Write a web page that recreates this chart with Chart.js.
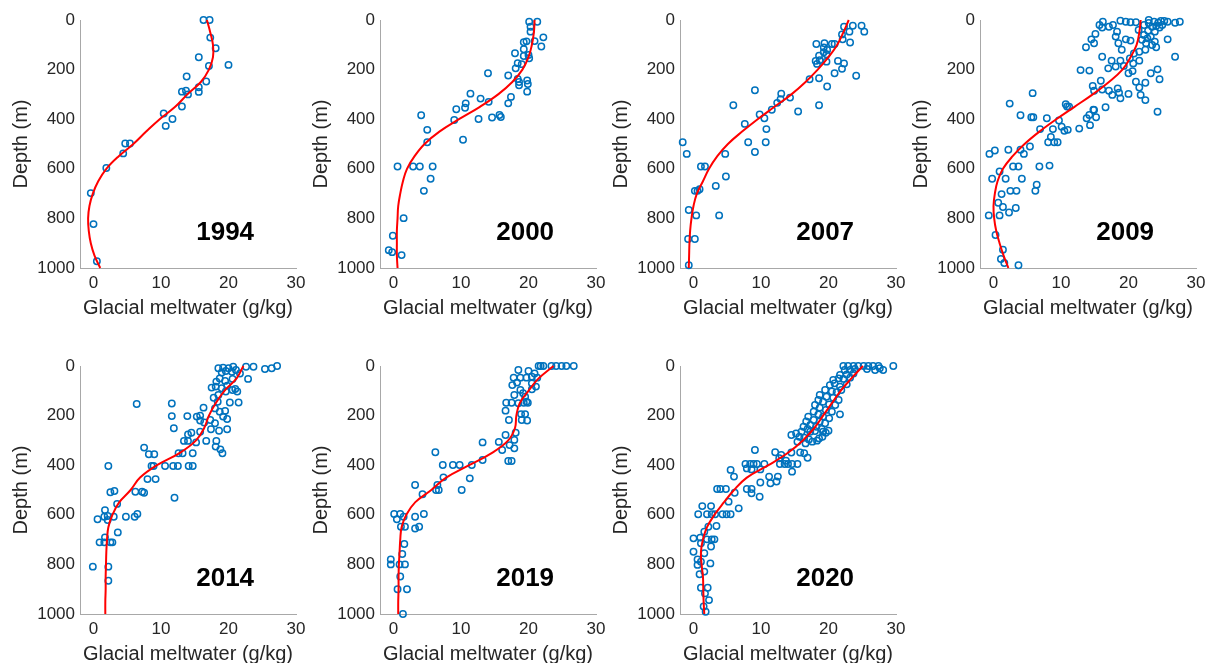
<!DOCTYPE html>
<html>
<head>
<meta charset="utf-8">
<script src="https://cdn.jsdelivr.net/npm/chart.js"></script>
<style>
  html, body { margin: 0; padding: 0; background: #fff; overflow: hidden; }
  #wrap { position: relative; width: 1208px; height: 663px; }
  #wrap canvas { position: absolute; }
</style>
</head>
<body>
<div id="wrap"></div>
<script>
// depth levels of the fitted profiles (m)
const fitDepth = [0, 50, 100, 150, 200, 250, 300, 350, 400, 450, 500, 550, 600, 650, 700, 750, 800, 850, 900, 950, 1000];
const xTicks = [0, 10, 20, 30];
const yTicks = [0, 200, 400, 600, 800, 1000];

// observations: [meltwater g/kg, depth m]
const obs1994 = [[16.3,0],[17.2,0],[17.3,71],[18.1,114],[15.6,150],[17.1,185],[20.0,181],[13.8,228],[16.7,248],[15.6,271],[13.1,289],[13.7,285],[15.6,290],[14.0,300],[13.1,349],[10.4,377],[11.7,399],[10.7,427],[4.7,498],[5.4,498],[4.4,538],[1.9,597],[-0.4,698],[0,823],[0.5,973]];
const fit1994 = [16.8,17.3,17.7,17.7,17.1,15.9,13.9,12.1,9.8,7.8,5.9,3.7,1.9,0.7,-0.1,-0.6,-0.8,-0.7,-0.4,0.15,1.0];

const obs2000 = [[20.1,7],[21.3,7],[20.3,27],[20.3,47],[22.2,70],[20.9,85],[19.3,90],[19.7,86],[21.9,107],[19.3,118],[18.0,134],[20.0,141],[19.3,145],[20.1,154],[18.4,174],[19.0,178],[18.1,195],[14.0,215],[17.0,224],[18.4,238],[18.6,250],[19.8,244],[18.6,263],[19.9,258],[19.8,289],[11.4,297],[17.4,310],[12.9,317],[10.7,336],[17.0,336],[14.1,330],[10.6,354],[9.3,360],[4.1,384],[15.7,383],[15.9,391],[14.6,393],[12.6,399],[9.0,403],[5.0,443],[10.3,483],[5.0,493],[0.6,591],[2.9,591],[3.9,591],[5.8,591],[5.5,640],[4.5,689],[1.5,799],[-0.1,870],[-0.7,928],[-0.2,936],[1.2,948]];
const fit2000 = [20.9,20.8,20.5,20.0,19.1,17.6,15.5,12.8,9.7,6.8,4.6,3.1,2.0,1.4,1.0,0.7,0.6,0.5,0.5,0.5,0.6];

const obs2007 = [[23.6,23],[24.9,23],[22.3,27],[23.1,47],[25.3,47],[22.0,58],[22.1,78],[23.2,91],[18.2,97],[19.4,94],[20.5,97],[20.9,97],[19.3,111],[19.8,121],[19.3,130],[18.6,144],[19.7,138],[18.1,165],[18.7,162],[19.7,168],[21.4,165],[22.3,175],[18.3,177],[22.0,197],[20.9,215],[17.2,239],[18.6,235],[24.1,225],[19.8,268],[9.1,283],[13.0,297],[14.3,313],[12.9,319],[5.9,344],[18.6,344],[12.4,334],[11.6,362],[15.5,369],[9.8,381],[10.5,396],[7.6,419],[10.8,440],[8.1,493],[10.7,493],[-1.6,493],[9.1,532],[-1.0,540],[4.7,540],[1.1,591],[1.7,591],[4.8,631],[3.3,669],[0.2,689],[0.6,689],[0.9,682],[-0.7,766],[0.4,788],[3.8,788],[-0.8,883],[0.2,883],[-0.7,989]];
const fit2007 = [23.0,22.2,21.3,20.0,18.4,16.6,14.5,12.0,9.5,7.2,5.1,3.5,2.3,1.4,0.5,0,-0.3,-0.5,-0.6,-0.65,-0.7];

const obs2009 = [[18.8,3],[19.6,7],[20.3,9],[21.1,9],[23.0,0],[23.8,7],[24.4,11],[25.3,4],[25.8,7],[26.9,11],[27.6,7],[16.2,7],[23.5,27],[24.1,24],[25.0,20],[16.1,30],[17.1,27],[17.7,20],[18.3,47],[15.1,56],[14.5,78],[14.9,94],[13.7,110],[18.1,67],[18.5,94],[19.6,78],[20.3,83],[22.3,60],[22.8,74],[23.3,67],[22.6,94],[23.5,101],[24.1,110],[23.9,47],[25.8,78],[21.6,128],[16.1,148],[17.5,164],[18.8,164],[20.2,155],[21.6,164],[17.0,195],[18.1,188],[19.3,185],[20.7,175],[12.9,202],[14.2,204],[20.0,215],[20.6,206],[23.3,215],[24.3,199],[24.6,239],[26.9,148],[21.1,249],[22.5,253],[21.6,272],[15.9,245],[14.7,266],[14.9,285],[16.1,280],[17.1,285],[18.4,276],[18.6,293],[17.6,302],[18.8,316],[20.0,298],[21.8,302],[22.5,323],[16.6,352],[24.3,370],[14.9,363],[14.2,383],[11.2,350],[22.3,20],[22.9,43],[24.6,30],[22.0,80],[23.9,87],[21.5,40],[19.0,120],[20.8,135],[22.5,120],[23.0,12],[24.8,4],[15.7,20],[5.8,295],[2.4,337],[4.0,384],[5.6,392],[5.9,392],[7.9,396],[6.9,440],[8.8,440],[9.7,405],[10.1,430],[8.5,472],[9.0,493],[9.5,493],[8.1,493],[10.7,340],[10.9,349],[10.5,447],[11.0,443],[12.7,438],[13.8,396],[14.8,362],[15.2,392],[14.3,424],[0.2,526],[-0.6,540],[2.2,523],[4.0,523],[4.5,540],[5.4,510],[2.9,591],[3.7,591],[6.8,591],[8.3,587],[0.9,611],[-0.2,640],[1.8,640],[4.2,640],[6.4,664],[6.2,689],[2.5,689],[3.4,689],[1.2,702],[0.7,737],[1.4,754],[3.3,758],[2.3,776],[-0.7,788],[0.9,788],[0.3,867],[1.4,926],[1.1,964],[1.6,980],[3.7,989]];
const fit2009 = [21.8,21.6,21.2,20.3,19.1,17.1,14.7,12.0,9.3,6.8,4.6,2.8,1.4,0.6,0.2,0,0.1,0.4,0.9,1.5,2.2];

const obs2014 = [[18.5,9],[19.2,7],[20.0,9],[20.7,3],[19.0,26],[19.6,20],[20.5,23],[21.1,16],[21.7,30],[22.6,3],[23.7,3],[25.4,12],[26.4,9],[27.2,0],[22.9,52],[18.7,50],[18.2,63],[19.5,60],[20.6,52],[17.5,87],[18.1,83],[19.0,90],[19.8,79],[21.0,93],[21.3,103],[20.6,97],[17.8,128],[18.5,117],[19.6,103],[18.4,144],[20.2,147],[21.5,147],[16.3,168],[18.0,171],[18.7,184],[19.5,181],[15.8,200],[15.3,204],[19.2,204],[19.8,214],[17.3,218],[18.0,231],[6.4,153],[-0.1,809],[2.2,809],[2.2,866],[2.2,403],[11.6,151],[11.6,202],[11.9,251],[13.9,202],[15.8,220],[16.4,228],[15.8,265],[14.5,269],[14.0,276],[13.4,302],[14.0,302],[15.2,308],[16.7,302],[17.4,255],[18.6,261],[18.2,302],[18.1,325],[18.8,336],[19.1,352],[19.8,255],[7.5,329],[8.2,356],[9.0,356],[8.6,403],[8.9,403],[10.6,403],[11.8,403],[12.5,403],[14.1,403],[14.7,403],[12.6,352],[13.2,352],[14.7,352],[8.0,456],[9.2,456],[6.2,507],[7.2,507],[7.5,511],[12.0,531],[2.5,509],[3.1,504],[3.5,556],[1.7,581],[0.6,618],[1.6,608],[2.1,605],[3.0,608],[4.8,608],[6.1,608],[6.5,597],[2.1,621],[3.6,671],[1.7,691],[0.9,711],[1.6,711],[2.5,711],[2.8,711]];
const fit2014 = [22.2,21.2,19.4,18.1,17.1,16.4,15.2,12.8,9.4,6.9,5.5,3.8,2.8,2.2,2.0,1.9,1.85,1.8,1.8,1.75,1.75];

const obs2019 = [[21.5,0],[21.8,0],[22.2,0],[23.4,0],[24.1,0],[24.9,0],[25.6,0],[26.7,0],[18.5,16],[20.0,20],[20.9,30],[17.8,47],[18.8,47],[19.7,47],[20.5,43],[21.3,47],[17.6,77],[18.3,67],[20.5,70],[21.1,83],[20.5,94],[17.9,117],[18.8,97],[19.2,110],[19.5,124],[19.7,144],[19.3,148],[19.9,148],[16.7,148],[17.5,148],[18.5,150],[16.6,180],[18.9,194],[19.5,194],[17.1,218],[19.0,218],[19.8,220],[18.1,269],[16.6,278],[17.9,298],[17.2,319],[17.9,332],[15.6,306],[13.2,308],[16.1,339],[17.0,383],[17.5,383],[13.2,379],[11.6,399],[8.8,399],[9.8,399],[7.3,399],[6.2,348],[7.4,449],[11.3,453],[3.2,480],[6.5,480],[6.7,500],[6.3,500],[10.1,500],[4.3,517],[0.1,597],[1.0,597],[1.5,608],[0.5,618],[3.2,608],[4.5,597],[1.1,648],[1.7,648],[3.2,655],[3.8,648],[1.6,718],[1.3,758],[-0.4,780],[-0.4,800],[0.9,800],[1.7,800],[1.0,849],[0.6,900],[2.0,900],[1.4,1000]];
const fit2019 = [23.7,21.5,20.0,18.7,18.2,18.0,17.0,14.6,11.2,7.8,5.6,3.2,1.9,1.2,1.0,0.9,0.8,0.75,0.75,0.7,0.7];

const obs2020 = [[22.2,0],[22.9,0],[23.7,0],[24.4,0],[25.2,0],[25.9,0],[26.6,0],[27.4,0],[27.6,9],[28.1,16],[29.6,0],[22.4,16],[23.2,16],[23.9,12],[25.7,12],[26.9,16],[21.7,36],[22.7,34],[23.7,30],[20.7,56],[21.5,50],[22.2,52],[23.2,47],[20.2,77],[20.9,70],[21.7,83],[22.7,74],[19.5,97],[20.5,103],[21.2,106],[21.9,97],[18.7,117],[19.7,124],[20.7,128],[21.5,137],[18.5,137],[19.2,144],[20.1,155],[21.0,157],[18.0,157],[18.7,168],[19.6,177],[20.5,184],[21.7,195],[17.8,184],[18.5,195],[19.2,204],[20.1,211],[17.0,204],[17.8,218],[18.7,224],[19.5,231],[16.7,224],[17.3,238],[18.2,245],[19.0,254],[16.3,245],[16.9,254],[18.0,262],[16.0,265],[17.3,265],[19.2,265],[14.5,278],[15.2,272],[15.7,285],[16.4,289],[17.1,296],[15.4,305],[16.6,312],[17.6,305],[18.3,301],[18.6,292],[19.1,285],[19.6,269],[20.0,261],[12.1,348],[13.0,359],[12.7,372],[13.7,382],[14.5,349],[15.8,349],[16.4,352],[16.9,370],[9.1,339],[7.7,395],[8.4,395],[8.9,395],[9.4,395],[10.5,395],[7.9,413],[8.6,417],[9.9,417],[12.8,395],[13.5,395],[14.0,395],[14.6,395],[15.4,395],[14.6,426],[5.5,419],[6.0,446],[11.2,446],[12.5,446],[11.4,473],[12.3,466],[9.9,470],[3.5,496],[4.0,496],[4.8,496],[7.9,496],[8.6,496],[6.1,511],[8.6,513],[9.8,527],[5.2,547],[6.7,574],[1.3,565],[2.6,565],[0.7,598],[2.0,598],[2.7,598],[3.2,598],[4.3,598],[4.9,598],[5.5,598],[2.2,648],[3.4,645],[1.6,668],[0,695],[1.0,692],[2.0,699],[2.7,699],[3.1,699],[1.1,715],[2.6,728],[0,749],[1.6,755],[0.6,780],[1.1,789],[0.6,802],[2.5,796],[0.9,840],[1.6,829],[1.1,894],[2.1,894],[1.7,917],[2.3,944],[1.5,970],[1.8,991]];
const fit2020 = [25.1,23.4,21.8,20.5,19.2,17.9,16.2,14.0,11.1,7.9,6.0,4.5,3.1,2.0,1.4,1.1,1.2,1.4,1.45,1.5,1.6];

const panels = [
    {year: '1994', obs: obs1994, fit: fit1994, col: 0, row: 0},
    {year: '2000', obs: obs2000, fit: fit2000, col: 1, row: 0},
    {year: '2007', obs: obs2007, fit: fit2007, col: 2, row: 0},
    {year: '2009', obs: obs2009, fit: fit2009, col: 3, row: 0},
    {year: '2014', obs: obs2014, fit: fit2014, col: 0, row: 1},
    {year: '2019', obs: obs2019, fit: fit2019, col: 1, row: 1},
    {year: '2020', obs: obs2020, fit: fit2020, col: 2, row: 1},
];

const FONT = '"Liberation Sans", Arial, Helvetica, sans-serif';
const AXIS_GREY = '#a8a8a8';
const TEXT = '#262626';

// year printed inside each panel, placed in data units
const yearLabel = {
    id: 'yearLabel',
    afterDatasetsDraw(chart, args, opts) {
        const {ctx, scales: {x, y}} = chart;
        ctx.save();
        ctx.font = 'bold 26px ' + FONT;
        ctx.fillStyle = '#000';
        ctx.textAlign = 'center';
        ctx.textBaseline = 'middle';
        ctx.fillText(opts.text, x.getPixelForValue(19.5), y.getPixelForValue(860));
        ctx.restore();
    }
};

const wrap = document.getElementById('wrap');

panels.forEach(p => {
    const canvas = document.createElement('canvas');
    canvas.width = 316;
    canvas.height = 330;
    canvas.style.left = (p.col * 300) + 'px';
    canvas.style.top = (p.row * 346) + 'px';
    canvas.style.width = '316px';
    canvas.style.height = '330px';
    wrap.appendChild(canvas);

    new Chart(canvas, {
        type: 'scatter',
        data: {
            datasets: [
                {
                    data: p.fit.map((v, i) => ({x: v, y: fitDepth[i]})),
                    showLine: true,
                    borderColor: '#ff0000',
                    borderWidth: 2,
                    pointRadius: 0,
                    tension: 0.4,
                    fill: false,
                    clip: false,
                    order: 0
                },
                {
                    data: p.obs.map(o => ({x: o[0], y: o[1]})),
                    showLine: false,
                    pointStyle: 'circle',
                    pointRadius: 3.2,
                    pointBorderWidth: 1.5,
                    pointBorderColor: 'rgb(0,114,189)',
                    pointBackgroundColor: 'rgba(0,0,0,0)',
                    clip: false,
                    order: 1
                }
            ]
        },
        options: {
            responsive: false,
            animation: false,
            devicePixelRatio: 1,
            layout: {padding: {top: 20, right: 20, left: 0, bottom: 0}},
            plugins: {
                legend: {display: false},
                tooltip: {enabled: false},
                yearLabel: {text: p.year}
            },
            scales: {
                x: {
                    type: 'linear',
                    min: -2,
                    max: 30,
                    afterBuildTicks: s => { s.ticks = xTicks.map(v => ({value: v})); },
                    afterFit: s => { s.height = 62; },
                    grid: {display: false, drawTicks: false},
                    border: {display: true, color: AXIS_GREY, width: 1},
                    ticks: {padding: 5, color: TEXT, font: {size: 17, family: FONT}, callback: v => String(v)},
                    title: {
                        display: true,
                        text: 'Glacial meltwater (g/kg)',
                        color: TEXT,
                        font: {size: 20, family: FONT},
                        padding: {top: 0, bottom: 10}
                    }
                },
                y: {
                    type: 'linear',
                    min: 0,
                    max: 1000,
                    reverse: true,
                    afterBuildTicks: s => { s.ticks = yTicks.map(v => ({value: v})); },
                    afterFit: s => { s.width = 80; },
                    grid: {display: false, drawTicks: false},
                    border: {display: true, color: AXIS_GREY, width: 1},
                    ticks: {padding: 5, color: TEXT, font: {size: 17, family: FONT}, callback: v => String(v)},
                    title: {
                        display: true,
                        text: 'Depth (m)',
                        color: TEXT,
                        font: {size: 20, family: FONT},
                        padding: {top: 9, bottom: 0}
                    }
                }
            }
        },
        plugins: [yearLabel]
    });
});
</script>
</body>
</html>
